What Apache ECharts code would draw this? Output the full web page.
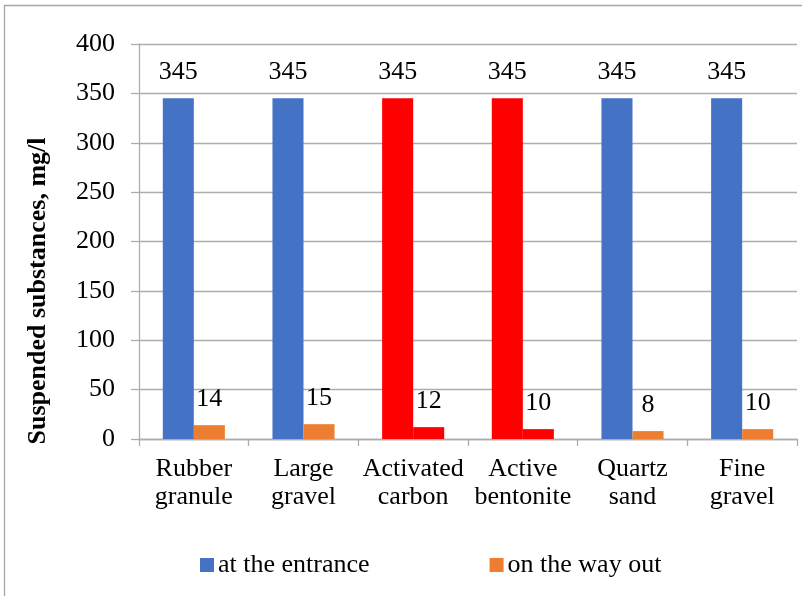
<!DOCTYPE html>
<html>
<head>
<meta charset="utf-8">
<script src="https://cdn.jsdelivr.net/npm/echarts@6/dist/echarts.min.js"></script>
<style>
  html, body { margin: 0; padding: 0; background: #fff; }
  #chart { width: 802px; height: 596px; }
</style>
</head>
<body>
<div id="chart"></div>
<script>
// Filter materials and suspended-substance concentrations (mg/l)
const categories = ['Rubber granule', 'Large gravel', 'Activated carbon', 'Active bentonite', 'Quartz sand', 'Fine gravel'];
const entranceValues = [345, 345, 345, 345, 345, 345];
const outletValues = [14, 15, 12, 10, 8, 10];
const seriesNames = ['at the entrance', 'on the way out'];
const yTicks = [0, 50, 100, 150, 200, 250, 300, 350, 400];
const axisTitle = 'Suspended substances, mg/l';
// Materials drawn in the accent colour
const accentCategories = ['Activated carbon', 'Active bentonite'];

const FONT = '"Liberation Serif", "Times New Roman", serif';
const BLUE = '#4472C4', ORANGE = '#ED7D31', RED = '#FF0000';
const GRID_COLOR = '#ADADAD';

function withColors(values, baseColor) {
  return values.map((v, i) => ({
    value: v,
    itemStyle: { color: accentCategories.includes(categories[i]) ? RED : baseColor }
  }));
}

const labelStyle = {
  show: true,
  position: 'top',
  distance: 13,
  color: '#000',
  fontFamily: FONT,
  fontSize: 26
};

const chart = echarts.init(document.getElementById('chart'), null, { renderer: 'canvas' });
chart.setOption({
  animation: false,
  backgroundColor: '#fff',
  textStyle: { fontFamily: FONT },
  grid: { left: 139, right: 5, top: 44, bottom: 157, containLabel: false },
  legend: {
    data: seriesNames,
    left: 195,
    top: 547,
    icon: 'rect',
    itemWidth: 14,
    itemHeight: 14,
    itemGap: 120,
    textStyle: { fontFamily: FONT, fontSize: 26, color: '#000', padding: [0, 0, 0, -1] }
  },
  xAxis: {
    type: 'category',
    data: categories,
    axisLine: { lineStyle: { color: GRID_COLOR, width: 1.3 } },
    axisTick: { show: true, length: 7, lineStyle: { color: GRID_COLOR, width: 1.3 } },
    axisLabel: {
      color: '#000',
      fontFamily: FONT,
      fontSize: 26,
      lineHeight: 28,
      margin: 16,
      interval: 0,
      formatter: v => v.replace(' ', '\n')
    }
  },
  yAxis: {
    type: 'value',
    min: yTicks[0],
    max: yTicks[yTicks.length - 1],
    interval: yTicks[1] - yTicks[0],
    axisLine: { show: true, lineStyle: { color: GRID_COLOR, width: 1.3 } },
    axisTick: { show: true, length: 8, lineStyle: { color: GRID_COLOR, width: 1.3 } },
    splitLine: { show: true, lineStyle: { color: GRID_COLOR, width: 1.3 } },
    axisLabel: { color: '#000', fontFamily: FONT, fontSize: 26, margin: 24 }
  },
  series: [
    {
      name: seriesNames[0],
      type: 'bar',
      data: withColors(entranceValues, BLUE),
      itemStyle: { color: BLUE },
      barWidth: '28.3%',
      barGap: '0%',
      label: labelStyle
    },
    {
      name: seriesNames[1],
      type: 'bar',
      data: withColors(outletValues, ORANGE),
      itemStyle: { color: ORANGE },
      barWidth: '28.3%',
      barGap: '0%',
      label: labelStyle
    }
  ],
  graphic: [
    {
      type: 'rect',
      shape: { x: 4.5, y: 5.5, width: 900, height: 700 },
      style: { fill: null, stroke: '#A6A6A6', lineWidth: 1.3 },
      silent: true
    },
    {
      type: 'text',
      x: 38,
      y: 291,
      rotation: Math.PI / 2,
      style: {
        text: axisTitle,
        fontFamily: FONT,
        fontSize: 26,
        fontWeight: 'bold',
        fill: '#000',
        align: 'center',
        verticalAlign: 'middle'
      }
    }
  ]
});
</script>
</body>
</html>
